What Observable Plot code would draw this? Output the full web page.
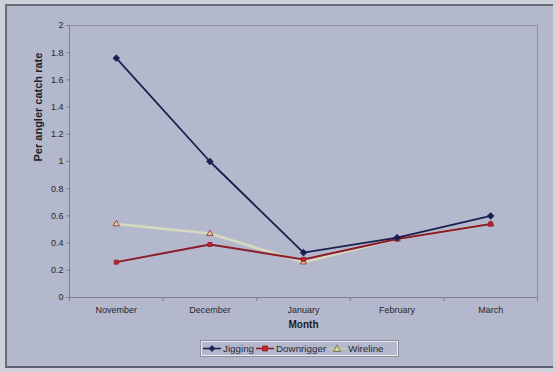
<!DOCTYPE html>
<html>
<head>
<meta charset="utf-8">
<script src="https://cdn.jsdelivr.net/npm/d3@7"></script>
<script src="https://cdn.jsdelivr.net/npm/@observablehq/plot@0.6"></script>
<style>
  html, body { margin: 0; padding: 0; overflow: hidden; }
  body { width: 556px; height: 372px; background: #cfd1da;
         font-family: "Liberation Sans", Arial, sans-serif; position: relative; }
  #frame { position: absolute; left: 5px; top: 4px; width: 546px; height: 360px;
           background: #b4b8cc; border-left: 2px solid #6a6c78; border-top: 2px solid #6a6c78;
           border-bottom: 2px solid #5e6070; }
  #chart { position: absolute; left: 0; top: 1px; }
  #legend { position: absolute; left: 194px; top: 335px; height: 15px; width: 197px;
            border: 1px solid #eceef2; outline: 1px solid #8a8c98; box-sizing: border-box;
            display: flex; align-items: center; font-size: 9.8px; color: #2a2a35;
            padding-left: 1px; white-space: nowrap; }
  #legend .item { display: flex; align-items: center; margin-right: 2px; }
  #legend svg { display: block; margin-right: 2px; }
</style>
</head>
<body>
<div id="frame">
  <div id="chart"></div>
  <div id="legend"></div>
</div>
<script>
// Monthly per-angler catch rate by fishing method
const months = ["November", "December", "January", "February", "March"];
const jigging = [1.76, 1.0, 0.33, 0.44, 0.60];
const downrigger = [0.26, 0.39, 0.28, 0.43, 0.54];
const wireline = [0.54, 0.47, 0.26, 0.43, 0.54];
const yTicks = [0, 0.2, 0.4, 0.6, 0.8, 1, 1.2, 1.4, 1.6, 1.8, 2];

const seriesNames = ["Jigging", "Downrigger", "Wireline"];
const seriesValues = [jigging, downrigger, wireline];

const rows = seriesNames.flatMap((name, s) =>
  seriesValues[s].map((v, i) => ({ series: name, month: months[i], i, value: v }))
);
const of = name => rows.filter(d => d.series === name);

const style = {
  Jigging:    { line: "#1b2050", fill: "#1b2050", stroke: "#1b2050", symbol: "diamond2", r: 3, w: 1.8 },
  Downrigger: { line: "#8c1c2b", fill: "#c8222e", stroke: "#8c1c2b", symbol: "square2", r: 2.6, w: 2 },
  Wireline:   { line: "#d5d9be", fill: "#d8d49e", stroke: "#9a2232", symbol: "triangle2", r: 3, w: 2.6 }
};

const cx = d => d.i + 0.5;
const lineMark = name => Plot.line(of(name), {
  x: cx, y: "value", stroke: style[name].line, strokeWidth: style[name].w, curve: "linear"
});
const dotMark = name => Plot.dot(of(name), {
  x: cx, y: "value", symbol: style[name].symbol, r: style[name].r,
  fill: style[name].fill, stroke: style[name].stroke, strokeWidth: 0.8
});

const chart = Plot.plot({
  width: 546,
  height: 330,
  marginLeft: 62,
  marginRight: 16,
  marginTop: 18,
  marginBottom: 40,
  style: { background: "transparent", fontFamily: "Liberation Sans, Arial, sans-serif", color: "#26262e" },
  x: { type: "linear", domain: [0, months.length] },
  y: { domain: [0, 2] },
  marks: [
    Plot.frame({ stroke: "#8d90a2", strokeWidth: 1 }),
    Plot.axisY(yTicks, {
      tickSize: 3, tickPadding: 3, fontSize: 9, stroke: "#7c7f90",
      tickFormat: d => String(d), label: null
    }),
    Plot.axisX(d3.range(months.length + 1), {
      tickSize: 4, stroke: "#7c7f90", tickFormat: () => "", label: null
    }),
    Plot.axisX(months.map((m, i) => i + 0.5), {
      tickSize: 0, tickPadding: 9, fontSize: 9, tickFormat: d => months[Math.floor(d)], label: null
    }),
    Plot.ruleX([0], { stroke: "#7c7f90" }),
    Plot.ruleY([0], { stroke: "#7c7f90" }),
    Plot.text(["Per angler catch rate"], {
      frameAnchor: "left", rotate: -90, dx: -31, fontSize: 11, fontWeight: "bold", fill: "#202028"
    }),
    Plot.text(["Month"], {
      frameAnchor: "bottom", dy: 30, fontSize: 10, fontWeight: "bold", fill: "#202028"
    }),
    lineMark("Wireline"),
    lineMark("Downrigger"),
    lineMark("Jigging"),
    dotMark("Wireline"),
    dotMark("Downrigger"),
    dotMark("Jigging")
  ]
});
document.getElementById("chart").appendChild(chart);

// Legend: line-and-marker swatch followed by the series name
const legend = document.getElementById("legend");
const symbolPath = {
  diamond2: "M9,1.5 L12,4.5 L9,7.5 L6,4.5 Z",
  square2: "M6.5,2 H11.5 V7 H6.5 Z",
  triangle2: "M9,1 L12.5,7.5 H5.5 Z"
};
seriesNames.forEach(name => {
  const s = style[name];
  const item = document.createElement("div");
  item.className = "item";
  item.innerHTML =
    `<svg width="18" height="9" viewBox="0 0 18 9">
       <line x1="0" y1="4.5" x2="18" y2="4.5" stroke="${name === "Wireline" ? "#c9cdb0" : s.line}" stroke-width="1.6"/>
       <path d="${symbolPath[s.symbol]}" fill="${s.fill}" stroke="${name === "Wireline" ? "#6b6a30" : s.stroke}" stroke-width="0.8"/>
     </svg><span>${name}</span>`;
  legend.appendChild(item);
});
</script>
</body>
</html>
